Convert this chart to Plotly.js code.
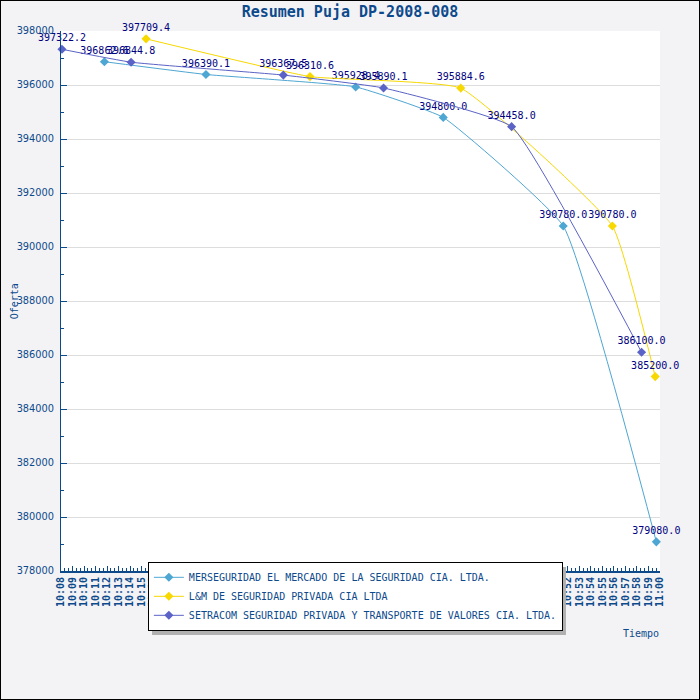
<!DOCTYPE html>
<html>
<head>
<meta charset="utf-8">
<script src="https://cdn.plot.ly/plotly-3.0.1.min.js"></script>
<style>
  body { margin: 0; background: #fff; }
  #chart { width: 698px; height: 698px; border: 1px solid #000; }
</style>
</head>
<body>
<div id="chart"></div>
<script>
// times are hh:mm:ss on the day of the auction
const day = '2008-01-01 ';

const merTimes = ['10:11:46', '10:20:35', '10:33:35', '10:41:11', '10:51:36', '10:59:41'];
const merValues = [396862.6, 396390.1, 395928.4, 394800.0, 390780.0, 379080.0];

const lmTimes = ['10:15:23', '10:29:37', '10:42:42', '10:55:52', '10:59:35'];
const lmValues = [397709.4, 396310.6, 395884.6, 390780.0, 385200.0];

const setTimes = ['10:08:05', '10:14:05', '10:27:18', '10:36:00', '10:47:07', '10:58:24'];
const setValues = [397322.2, 396844.8, 396367.5, 395890.1, 394458.0, 386100.0];

const names = [
  'MERSEGURIDAD EL MERCADO DE LA SEGURIDAD CIA. LTDA.',
  'L&M DE SEGURIDAD PRIVADA CIA LTDA',
  'SETRACOM SEGURIDAD PRIVADA Y TRANSPORTE DE VALORES CIA. LTDA.'
];
const colors = ['#4ea6d2', '#f7d800', '#5b63c6'];

const navy = '#0d4a8c';
const mono = 'DejaVu Sans Mono';

function series(times, values, i) {
  return {
    x: times.map(t => day + t),
    y: values,
    name: names[i],
    type: 'scatter',
    mode: 'lines+markers+text',
    line: { color: colors[i], width: 1, shape: 'spline', smoothing: 0.35 },
    marker: { color: colors[i], symbol: 'diamond', size: 7 },
    texttemplate: '%{y:.1f}',
    textposition: 'top center',
    textfont: { family: mono, size: 10, color: '#000080' },
    cliponaxis: false,
    hoverinfo: 'x+y'
  };
}

const traces = [
  series(merTimes, merValues, 0),
  series(lmTimes, lmValues, 1),
  series(setTimes, setValues, 2)
];

const layout = {
  width: 698,
  height: 698,
  paper_bgcolor: '#f3f3f5',
  plot_bgcolor: '#ffffff',
  margin: { l: 60, r: 39, t: 30, b: 128 },
  title: {
    text: 'Resumen Puja DP-2008-008',
    font: { family: mono, size: 15, color: navy, weight: 'bold' },
    x: 0.5, y: 0.984, yanchor: 'middle'
  },
  xaxis: {
    type: 'date',
    range: [day + '10:08', day + '11:00'],
    dtick: 60000,
    tickformat: '%H:%M',
    tickangle: -90,
    tickfont: { family: mono, size: 10, color: navy, weight: 'bold' },
    ticks: 'inside',
    ticklen: 5,
    tickcolor: navy,
    minor: { dtick: 20000, ticks: 'inside', ticklen: 3, tickcolor: navy },
    showline: true,
    linecolor: navy,
    linewidth: 2,
    showgrid: false,
    zeroline: false,
    fixedrange: true
  },
  yaxis: {
    range: [378000, 398000],
    dtick: 2000,
    tickformat: 'd',
    tickfont: { family: 'DejaVu Sans', size: 9.8, color: navy },
    ticks: 'inside',
    ticklen: 6,
    tickcolor: navy,
    ticklabelstandoff: 4,
    minor: { dtick: 1000, ticks: 'inside', ticklen: 3, tickcolor: navy },
    showline: true,
    linecolor: navy,
    linewidth: 1,
    showgrid: true,
    gridcolor: '#dddddd',
    zeroline: false,
    fixedrange: true
  },
  showlegend: true,
  legend: {
    x: 0.145, y: 0.017, xanchor: 'left', yanchor: 'top',
    bgcolor: '#ffffff',
    bordercolor: '#000000',
    borderwidth: 1,
    font: { family: mono, size: 10, color: navy },
    itemwidth: 30,
    tracegroupgap: 0
  },
  shapes: [{
    type: 'rect', xref: 'paper', yref: 'paper', layer: 'above',
    x0: 0.152, x1: 0.843, y0: -0.1185, y1: 0.0074,
    fillcolor: '#b0b0b0', line: { width: 0 }
  }],
  annotations: [
    {
      text: 'Oferta', xref: 'paper', yref: 'paper',
      x: -0.078, y: 0.5, xanchor: 'center', yanchor: 'middle',
      textangle: -90, showarrow: false,
      font: { family: mono, size: 10, color: navy }
    },
    {
      text: 'Tiempo', xref: 'paper', yref: 'paper',
      x: 0.968, y: -0.115, xanchor: 'center', yanchor: 'middle',
      showarrow: false,
      font: { family: mono, size: 10, color: navy }
    }
  ]
};

Plotly.newPlot('chart', traces, layout, { displayModeBar: false, staticPlot: true });
</script>
</body>
</html>
